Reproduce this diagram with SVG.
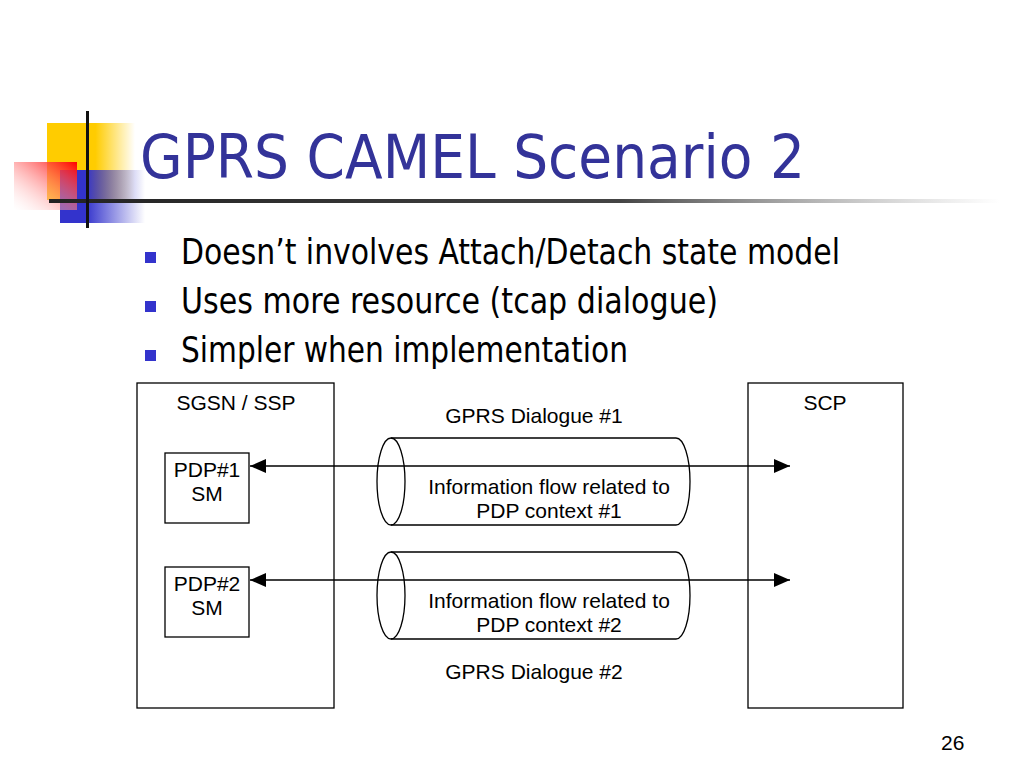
<svg xmlns="http://www.w3.org/2000/svg" width="1024" height="768" viewBox="0 0 1024 768">
<defs>
<linearGradient id="gy" x1="0" y1="0" x2="1" y2="0"><stop offset="0" stop-color="#ffcc00"/><stop offset="0.55" stop-color="#ffcc00"/><stop offset="1" stop-color="#ffcc00" stop-opacity="0"/></linearGradient>
<linearGradient id="gb" x1="0" y1="0" x2="1" y2="0"><stop offset="0" stop-color="#3333cc"/><stop offset="0.3" stop-color="#3333cc"/><stop offset="1" stop-color="#3333cc" stop-opacity="0"/></linearGradient>
<linearGradient id="gr" x1="1" y1="0" x2="0" y2="1"><stop offset="0" stop-color="#ff0000"/><stop offset="1" stop-color="#ffffff" stop-opacity="0.2"/></linearGradient>
<linearGradient id="gl" x1="0" y1="0" x2="1" y2="0"><stop offset="0" stop-color="#222222"/><stop offset="0.6" stop-color="#444444"/><stop offset="1" stop-color="#888888" stop-opacity="0"/></linearGradient>
<marker id="ah" viewBox="0 0 16 14" refX="16" refY="7" markerWidth="16" markerHeight="14" markerUnits="userSpaceOnUse" orient="auto-start-reverse"><path d="M0,0 L16,7 L0,14 Z" fill="#000"/></marker>
</defs>
<style>
.box{fill:#fff;stroke:#000;stroke-width:1.3}
.cyl{fill:none;stroke:#000;stroke-width:1.3}
.lbl{font-family:"Liberation Sans",Arial,sans-serif;font-size:21px;fill:#000}
.bul{font-family:"DejaVu Sans Condensed","DejaVu Sans",Verdana,sans-serif;font-size:35px;fill:#000}
.conn{stroke:#000;stroke-width:1.3;fill:none}
</style>
<rect width="1024" height="768" fill="#fff"/>
<g id="decor">
<rect x="47" y="123" width="88" height="77" fill="url(#gy)"/>
<rect x="60" y="170" width="85" height="53" fill="url(#gb)"/>
<rect x="14" y="162" width="63" height="48" fill="url(#gr)"/>
<rect x="49" y="199" width="951" height="4" fill="url(#gl)"/>
<rect x="86" y="111" width="3" height="117" fill="#111"/>
</g>
<text x="140" y="178" font-family="DejaVu Sans,Verdana,sans-serif" font-size="61" fill="#333399" textLength="665" lengthAdjust="spacingAndGlyphs">GPRS CAMEL Scenario 2</text>
<g id="bullets">
<rect x="145" y="252" width="11" height="11" fill="#3333cc"/>
<rect x="145" y="301" width="11" height="11" fill="#3333cc"/>
<rect x="145" y="350" width="11" height="11" fill="#3333cc"/>
<text class="bul" x="181" y="264" textLength="659" lengthAdjust="spacingAndGlyphs">Doesn’t involves Attach/Detach state model</text>
<text class="bul" x="181" y="313" textLength="537" lengthAdjust="spacingAndGlyphs">Uses more resource (tcap dialogue)</text>
<text class="bul" x="181" y="362" textLength="447" lengthAdjust="spacingAndGlyphs">Simpler when implementation</text>
</g>
<g id="sgsn">
<rect class="box" x="137" y="383" width="197" height="325"/>
<text class="lbl" x="236" y="410" text-anchor="middle">SGSN / SSP</text>
</g>
<g id="scp">
<rect class="box" x="748" y="383" width="155" height="325"/>
<text class="lbl" x="825" y="410" text-anchor="middle">SCP</text>
</g>
<g id="pdp1">
<rect class="box" x="165" y="453" width="84" height="70"/>
<text class="lbl" x="207" y="477" text-anchor="middle">PDP#1</text>
<text class="lbl" x="207" y="501" text-anchor="middle">SM</text>
</g>
<g id="pdp2">
<rect class="box" x="165" y="567" width="84" height="70"/>
<text class="lbl" x="207" y="591" text-anchor="middle">PDP#2</text>
<text class="lbl" x="207" y="615" text-anchor="middle">SM</text>
</g>
<g id="dialogue1">
<ellipse class="cyl" cx="391" cy="481.5" rx="14" ry="43.5"/>
<path class="cyl" d="M391,438 L676,438 A14,43.5 0 0 1 676,525 L391,525"/>
<text class="lbl" x="534" y="423" text-anchor="middle">GPRS Dialogue #1</text>
<text class="lbl" x="549" y="494" text-anchor="middle">Information flow related to</text>
<text class="lbl" x="549" y="518" text-anchor="middle">PDP context #1</text>
</g>
<g id="dialogue2">
<ellipse class="cyl" cx="391" cy="595.5" rx="14" ry="43.5"/>
<path class="cyl" d="M391,552 L676,552 A14,43.5 0 0 1 676,639 L391,639"/>
<text class="lbl" x="534" y="679" text-anchor="middle">GPRS Dialogue #2</text>
<text class="lbl" x="549" y="608" text-anchor="middle">Information flow related to</text>
<text class="lbl" x="549" y="632" text-anchor="middle">PDP context #2</text>
</g>
<g id="connectors">
<line class="conn" x1="250" y1="466" x2="790" y2="466" marker-start="url(#ah)" marker-end="url(#ah)"/>
<line class="conn" x1="250" y1="580" x2="790" y2="580" marker-start="url(#ah)" marker-end="url(#ah)"/>
</g>
<text x="941" y="750" font-family="Liberation Sans,Arial,sans-serif" font-size="21" fill="#000">26</text>
</svg>
